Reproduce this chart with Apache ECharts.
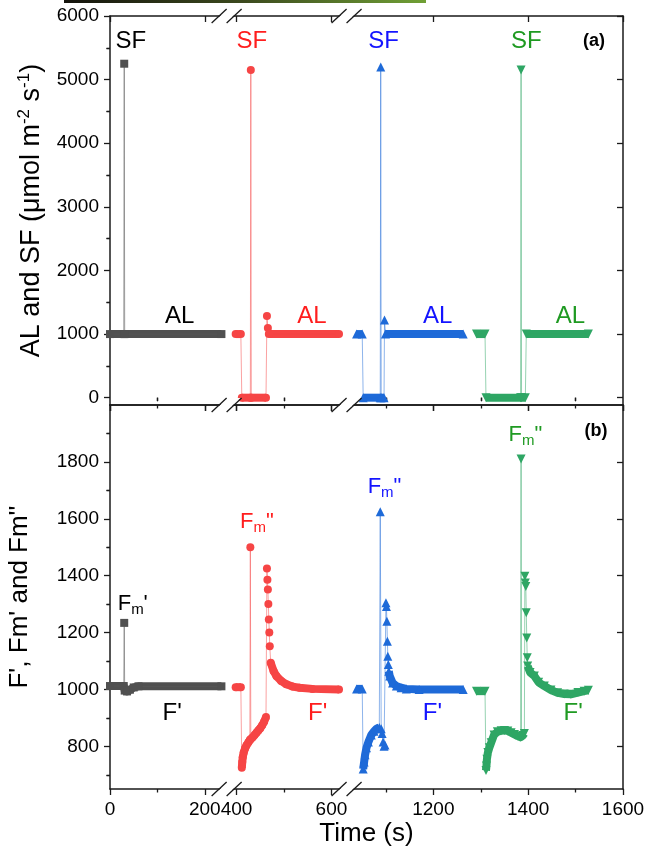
<!DOCTYPE html>
<html><head><meta charset="utf-8">
<script src="https://cdn.jsdelivr.net/npm/echarts@6/dist/echarts.min.js"></script>
<style>html,body{margin:0;padding:0;background:#fff}#c{width:647px;height:852px}</style>
</head><body><div id="c"></div>
<script>
// ---------- axis ticks ----------
const timeTicks = [0, 200, 400, 600, 1200, 1400, 1600];
const timeMinorTicks = [100, 500, 1100, 1300, 1500];
const timeBreaks = [[246, 379], [632, 1017]];
const lightTicks = [0, 1000, 2000, 3000, 4000, 5000, 6000];
const lightMinorTicks = [500, 1500, 2500, 3500, 4500, 5500];
const fluoTicks = [800, 1000, 1200, 1400, 1600, 1800];
const fluoMinorTicks = [700, 900, 1100, 1300, 1500, 1700, 1900];

// ---------- data: [time (s), value] ----------
// (a) light: AL and SF (umol m-2 s-1)
const blackLight = [[0,1000],[29,1000],[30,5250],[31,1000],[235,1000]];
const blackLightBand = [[[0,1000],[235,1000]]];
const redLight = [[398,1000],[409,1000],[411,0],[429,0],[430,5150],[431,0],[462,0],[464,1283],[466,1094],[468,1000],[616,1000]];
const redLightBand = [[[398,1000],[409,1000]],[[411,0],[462,0]],[[468,1000],[616,1000]]];
const blueLight = [[1038,1000],[1050,1000],[1052,0],[1088,0],[1089,5200],[1090,0],[1096,0],[1097,1220],[1099,1000],[1263,1000]];
const blueLightBand = [[[1038,1000],[1050,1000]],[[1052,0],[1096,0]],[[1099,1000],[1263,1000]]];
const greenLight = [[1291,1000],[1309,1000],[1311,0],[1384,0],[1385,5150],[1386,0],[1394,0],[1396,1000],[1527,1000]];
const greenLightBand = [[[1291,1000],[1309,1000]],[[1311,0],[1394,0]],[[1396,1000],[1527,1000]]];

// (b) fluorescence: F', Fm', Fm''
const blackFluo = [[0,1012],[29,1012],[30,1234],[31,996],[36,993],[42,999],[50,1007],[60,1011],[235,1011]];
const blackFluoBand = [[[0,1012],[29,1012],[31,996],[36,993],[42,999],[50,1007],[60,1011],[235,1011]]];
const redFluo = [[398,1008],[409,1008],[411,725],[412,745],[413,762],[415,778],[418,793],[421,804],[425,814],[428,822],[429,1500],[430,826],[434,832],[438,840],[442,848],[446,856],[450,864],[454,874],[458,886],[462,903],[464,1425],[465,1386],[466,1351],[467,1300],[468,1246],[469,1200],[470,1152],[472,1094],[478,1065],[484,1047],[494,1030],[505,1018],[518,1010],[533,1006],[560,1002],[616,1000]];
const redFluoBand = [[[398,1008],[409,1008]],[[411,725],[412,745],[413,762],[415,778],[418,793],[421,804],[425,814],[428,822],[430,826],[434,832],[438,840],[442,848],[446,856],[450,864],[454,874],[458,886],[462,903]],[[472,1094],[478,1065],[484,1047],[494,1030],[505,1018],[518,1010],[533,1006],[560,1002],[616,1000]]];
const blueFluo = [[1038,1002],[1050,1002],[1052,720],[1054,745],[1056,770],[1059,795],[1063,815],[1069,840],[1075,853],[1080,862],[1086,866],[1088,1625],[1090,862],[1092,845],[1094,815],[1096,800],[1098,805],[1100,1305],[1101,1292],[1102,1240],[1103,1169],[1104,1117],[1105,1088],[1106,1064],[1108,1047],[1114,1023],[1122,1012],[1132,1006],[1143,1002],[1170,1000],[1263,1000]];
const blueFluoBand = [[[1038,1002],[1050,1002]],[[1052,720],[1054,745],[1056,770],[1059,795],[1063,815],[1069,840],[1075,853],[1080,862],[1086,866]],[[1106,1064],[1108,1047],[1114,1023],[1122,1012],[1132,1006],[1143,1002],[1170,1000],[1263,1000]]];
const greenFluo = [[1291,994],[1309,994],[1311,715],[1312,731],[1313,755],[1315,778],[1318,795],[1322,813],[1328,840],[1335,851],[1343,855],[1350,856],[1357,854],[1364,848],[1371,842],[1378,836],[1384,832],[1385,1810],[1386,834],[1389,838],[1392,845],[1393,1398],[1394,1374],[1395,1362],[1396,1270],[1397,1181],[1398,1111],[1399,1082],[1404,1060],[1413,1047],[1422,1025],[1434,1012],[1448,998],[1462,988],[1476,984],[1490,983],[1505,989],[1518,994],[1527,997]];
const greenFluoBand = [[[1291,994],[1309,994]],[[1311,715],[1312,731],[1313,755],[1315,778],[1318,795],[1322,813],[1328,840],[1335,851],[1343,855],[1350,856],[1357,854],[1364,848],[1371,842],[1378,836],[1384,832],[1386,834],[1389,838],[1392,845]],[[1399,1082],[1404,1060],[1413,1047],[1422,1025],[1434,1012],[1448,998],[1462,988],[1476,984],[1490,983],[1505,989],[1518,994],[1527,997]]];

// ---------- annotation texts ----------
const sfLabels = ['SF', 'SF', 'SF', 'SF'];
const alLabels = ['AL', 'AL', 'AL', 'AL'];
const fLabels = ["F'", "F'", "F'", "F'"];

// ---------- styles / layout ----------
const FONT = '"Liberation Sans", Arial, sans-serif';
const groups = [
  {marker:'#505050', line:'rgba(90,90,90,0.55)', text:'#000000', symbol:'rect', rot:0},
  {marker:'#f64545', line:'rgba(246,69,69,0.5)', text:'#ff1e1e', symbol:'circle', rot:0},
  {marker:'#1e6ad8', line:'rgba(30,106,216,0.5)', text:'#1414ff', symbol:'triangle', rot:0},
  {marker:'#2ea664', line:'rgba(46,166,100,0.5)', text:'#1f9a22', symbol:'triangle', rot:180}
];
const lightSeries = [[blackLight, blackLightBand],[redLight, redLightBand],[blueLight, blueLightBand],[greenLight, greenLightBand]];
const fluoSeries = [[blackFluo, blackFluoBand],[redFluo, redFluoBand],[blueFluo, blueFluoBand],[greenFluo, greenFluoBand]];

// annotation anchor points in data coords (time, value)
const sfPos = [[44,5600],[432,5600],[1095,5600],[1396,5600]];
const alPos = [[147,1283],[559,1283],[1209,1283],[1489,1283]];
const fPos = [[131,916],[571,916],[1198,916],[1495,916]];
const fmPos = [[48,1300],[443,1590],[1097,1712],[1394,1896]];
const panelPos = [[1539,5600],[1543,1909]];

const grids = [
  {left:110, right:24, top:16, height:389},
  {left:110, right:24, top:405, height:384}
];
const axisColor = '#1a1a1a';
const TICKFONT = 19;

function xAxesFor(gi, labels) {
  const base = {
    type:'value', gridIndex:gi, min:0, max:1600,
    breaks: timeBreaks.map(b => ({start:b[0], end:b[1], gap:0})),
    breakArea:{show:false},
    splitLine:{show:false}
  };
  return [
    Object.assign({}, base, {
      position:'bottom',
      axisLine:{show:true, onZero:false, lineStyle:{color:axisColor, width:1.5}},
      axisTick:{show:true, customValues:timeTicks, length:6, inside:false, lineStyle:{color:axisColor, width:1.3}},
      axisLabel:{show:labels, customValues:timeTicks, margin:11, fontSize:TICKFONT, fontFamily:FONT, color:'#000',
        formatter: v => timeTicks.indexOf(v) >= 0 ? String(v) : ''},
      name: labels ? 'Time (s)' : '', nameLocation:'middle', nameGap:32,
      nameTextStyle:{fontSize:26, fontFamily:FONT, color:'#000'}
    }),
    Object.assign({}, base, {
      position:'bottom',
      axisLine:{show:false},
      axisTick:{show:true, customValues:timeMinorTicks, length:3.5, inside:false, lineStyle:{color:axisColor, width:1.3}},
      axisLabel:{show:false}
    }),
    Object.assign({}, base, {
      position:'top',
      axisLine:{show:true, onZero:false, lineStyle:{color:axisColor, width:1.5}},
      axisTick:{show:true, customValues:timeTicks, length:6, inside:true, lineStyle:{color:axisColor, width:1.3}},
      axisLabel:{show:false}
    }),
    Object.assign({}, base, {
      position:'top',
      axisLine:{show:false},
      axisTick:{show:true, customValues:timeMinorTicks, length:3.5, inside:true, lineStyle:{color:axisColor, width:1.3}},
      axisLabel:{show:false}
    })
  ];
}

function yAxesFor(gi, min, max, ticks, minor, name, nameGap, rich) {
  const base = {type:'value', gridIndex:gi, min:min, max:max, splitLine:{show:false}};
  return [
    Object.assign({}, base, {
      position:'left',
      axisLine:{show:true, onZero:false, lineStyle:{color:axisColor, width:1.5}},
      axisTick:{show:true, customValues:ticks, length:6, inside:false, lineStyle:{color:axisColor, width:1.3}},
      axisLabel:{show:true, customValues:ticks, margin:11, fontSize:TICKFONT, fontFamily:FONT, color:'#000',
        formatter: v => ticks.indexOf(v) >= 0 ? String(v) : ''},
      name:name, nameLocation:'middle', nameGap:nameGap, nameRotate:90,
      nameTextStyle:{fontSize:26, fontFamily:FONT, color:'#000', rich:rich}
    }),
    Object.assign({}, base, {
      position:'left',
      axisLine:{show:false},
      axisTick:{show:true, customValues:minor, length:3.5, inside:false, lineStyle:{color:axisColor, width:1.3}},
      axisLabel:{show:false}
    }),
    Object.assign({}, base, {
      position:'right',
      axisLine:{show:true, onZero:false, lineStyle:{color:axisColor, width:1.5}},
      axisTick:{show:true, customValues:ticks, length:6, inside:true, lineStyle:{color:axisColor, width:1.3}},
      axisLabel:{show:false}
    }),
    Object.assign({}, base, {
      position:'right',
      axisLine:{show:false},
      axisTick:{show:true, customValues:minor, length:3.5, inside:true, lineStyle:{color:axisColor, width:1.3}},
      axisLabel:{show:false}
    })
  ];
}

const richTitle = {
  t:{fontSize:27, fontFamily:FONT, color:'#000'},
  s:{fontSize:17, fontFamily:FONT, color:'#000', padding:[0,0,14,0]}
};

const series = [];
function addPanel(list, axisIdx) {
  list.forEach((pair, i) => {
    const g = groups[i];
    pair[1].forEach(seg => {
      series.push({
        type:'line', xAxisIndex:axisIdx, yAxisIndex:axisIdx, data:seg, symbol:'none',
        lineStyle:{width:8, color:g.marker, cap:'butt', join:'round'}, z:2, silent:true
      });
    });
    series.push({
      type:'line', xAxisIndex:axisIdx, yAxisIndex:axisIdx, data:pair[0],
      symbol:g.symbol, symbolSize: g.symbol === 'triangle' ? 9 : 8, symbolRotate:g.rot,
      showAllSymbol:true,
      itemStyle:{color:g.marker}, lineStyle:{width:1, color:g.line}, z:3, silent:true
    });
  });
}
addPanel(lightSeries, 0);
addPanel(fluoSeries, 4);

const chart = echarts.init(document.getElementById('c'), null, {renderer:'canvas'});
chart.setOption({
  animation:false,
  backgroundColor:'#fff',
  grid: grids.map(g => Object.assign({containLabel:false, outerBoundsMode:'none'}, g)),
  xAxis: xAxesFor(0, false).concat(xAxesFor(1, true)),
  yAxis: yAxesFor(0, -115, 6000, lightTicks, lightMinorTicks,
           '{t|AL and SF (μmol m}{s|-2}{t| s}{s|-1}{t|)}', 63, richTitle)
    .concat(yAxesFor(1, 650, 2000, fluoTicks, fluoMinorTicks, "F', Fm' and Fm''", 77, richTitle)),
  series: series
});

// ---------- graphics: annotations and axis-break marks ----------
const gfx = [];
function px(axisIdx, pt) { return chart.convertToPixel({xAxisIndex:axisIdx, yAxisIndex:axisIdx}, pt); }
function addText(axisIdx, pt, text, color, size, bold) {
  const p = px(axisIdx, pt);
  gfx.push({type:'text', x:p[0], y:p[1], z:50, silent:true,
    style:{text:text, fill:color, font:(bold?'bold ':'') + size + 'px ' + FONT, align:'center', verticalAlign:'middle'}});
}
groups.forEach((g, i) => {
  addText(0, sfPos[i], sfLabels[i], g.text, 24);
  addText(0, alPos[i], alLabels[i], g.text, 24);
  addText(4, fPos[i], fLabels[i], g.text, 24);
  const p = px(4, fmPos[i]);
  const tail = i === 0 ? "'" : '"';
  gfx.push({type:'text', x:p[0], y:p[1], z:50, silent:true,
    style:{text:'{b|F}{s|m}{b|' + tail + '}', fill:g.text, align:'center', verticalAlign:'middle',
      rich:{b:{fontSize:22, fontFamily:FONT, fill:g.text},
            s:{fontSize:15, fontFamily:FONT, fill:g.text, padding:[12,0,0,0]}}}});
});
addText(0, panelPos[0], '(a)', '#000', 18, true);
addText(4, panelPos[1], '(b)', '#000', 18, true);

// break marks on each horizontal frame line
const frameYs = [
  chart.convertToPixel({yAxisIndex:0}, 6000),
  chart.convertToPixel({yAxisIndex:0}, -115),
  chart.convertToPixel({yAxisIndex:4}, 650)
];
timeBreaks.forEach(b => {
  const x = chart.convertToPixel({xAxisIndex:0}, b[0]);
  frameYs.forEach(y => {
    gfx.push({type:'polygon', z:60, silent:true,
      shape:{points:[[x-14,y+7],[x-1,y+7],[x+14,y-7],[x+1,y-7]]},
      style:{fill:'#fff'}});
    gfx.push({type:'line', z:61, silent:true, shape:{x1:x-15, y1:y+7, x2:x, y2:y-7},
      style:{stroke:axisColor, lineWidth:1.3}});
    gfx.push({type:'line', z:61, silent:true, shape:{x1:x, y1:y+7, x2:x+15, y2:y-7},
      style:{stroke:axisColor, lineWidth:1.3}});
  });
});

// strip from the neighbouring figure at the top edge
gfx.push({type:'rect', z:70, silent:true, shape:{x:64, y:0, width:362, height:3},
  style:{fill:new echarts.graphic.LinearGradient(0,0,1,0,[{offset:0,color:'#14130c'},{offset:0.5,color:'#3c4a1e'},{offset:1,color:'#70a035'}])}});

chart.setOption({graphic: gfx});
</script>
</body></html>
